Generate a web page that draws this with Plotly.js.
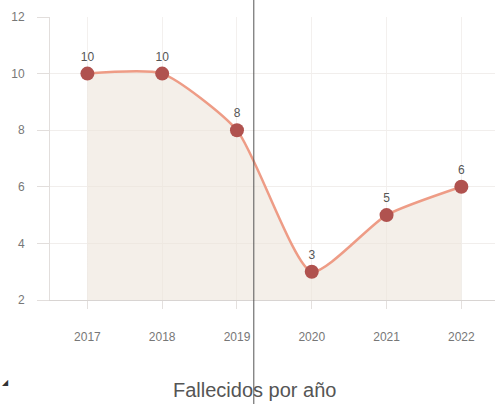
<!DOCTYPE html>
<html><head><meta charset="utf-8">
<script src="https://cdn.plot.ly/plotly-3.0.1.min.js"></script>
<style>html,body{margin:0;padding:0;background:#fff}</style>
</head><body><div id="chart" style="width:495px;height:404px"></div>
<script>
var years = [2017, 2018, 2019, 2020, 2021, 2022];
var deaths = [10, 10, 8, 3, 5, 6];
var yTicks = [2, 4, 6, 8, 10, 12];
var titleText = "Fallecidos por año";

var trace = {
  x: years, y: deaths, type: 'scatter', mode: 'lines+markers+text',
  text: deaths.map(String), textposition: 'top center',
  textfont: {family: 'Liberation Sans, Arial', size: 12, color: '#555'},
  line: {shape: 'spline', smoothing: 0.6, color: '#ee9c86', width: 2.5},
  marker: {size: 14, color: '#b0524f'},
  fill: 'tozeroy', fillcolor: 'rgba(236,228,218,0.6)',
  cliponaxis: false, hoverinfo: 'none'
};
var layout = {
  width: 495, height: 404,
  margin: {l: 50, r: 0, t: 17, b: 104},
  paper_bgcolor: '#fff', plot_bgcolor: '#fff',
  showlegend: false,
  font: {family: 'Liberation Sans, Arial', color: '#666', size: 12},
  xaxis: {range: [2016.5, 2022.45], tickvals: years, ticktext: years.map(String),
    showgrid: true, gridcolor: '#f3f0ee', zeroline: false,
    showline: true, linecolor: '#d8d4d2', linewidth: 1,
    ticks: 'outside', ticklen: 8, tickcolor: '#e4e0de', ticklabelstandoff: 18,
    tickfont: {size: 12, color: '#777'}},
  yaxis: {range: [2, 12], tickvals: yTicks, showgrid: true, gridcolor: '#f1eeec', zeroline: false,
    showline: true, linecolor: '#e2dedc', linewidth: 1,
    ticks: 'outside', ticklen: 12, tickcolor: '#e2dedc', ticklabelstandoff: 10,
    tickfont: {size: 12, color: '#777'}},
  annotations: [
    {text: titleText, xref: 'paper', yref: 'paper', x: 0.46, y: -0.364, showarrow: false,
     xanchor: 'center', yanchor: 'bottom', font: {size: 20, color: '#555'}},
    {text: '◢', xref: 'paper', yref: 'paper', x: -0.1, y: -0.29, showarrow: false,
     xanchor: 'center', yanchor: 'middle', font: {size: 8, color: '#333'}}
  ],
  shapes: [
    {type: 'line', xref: 'paper', yref: 'paper', x0: 0.458, x1: 0.458, y0: 1.07, y1: -0.38,
     line: {color: '#555', width: 1}}
  ]
};
Plotly.newPlot('chart', [trace], layout, {displayModeBar: false, staticPlot: true});
</script></body></html>
